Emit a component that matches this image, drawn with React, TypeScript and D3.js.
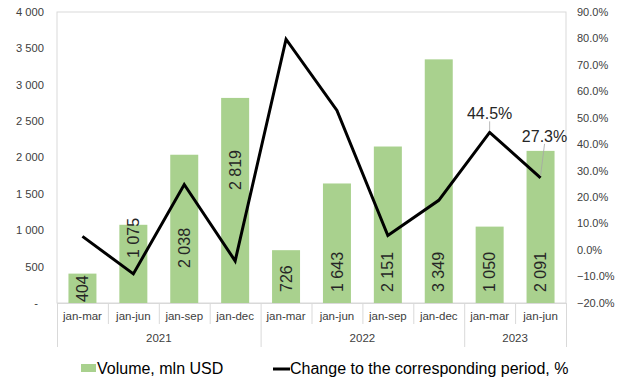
import React from 'react';
import * as d3 from 'd3';

const categories = ['jan-mar', 'jan-jun', 'jan-sep', 'jan-dec', 'jan-mar', 'jan-jun', 'jan-sep', 'jan-dec', 'jan-mar', 'jan-jun'];
const yearLabels = ['2021', '2022', '2023'];
const yearSpans = [4, 4, 2];
const volume = [404, 1075, 2038, 2819, 726, 1643, 2151, 3349, 1050, 2091];
const change = [5.2, -9.0, 24.8, -4.1, 79.7, 52.8, 5.5, 18.8, 44.5, 27.3];
// where each rotated value label starts, in mln USD
const labelAnchor = [14, 619, 481, 1553, 151, 151, 151, 151, 151, 151];
const leftTicks = [0, 500, 1000, 1500, 2000, 2500, 3000, 3500, 4000];
const rightTicks = [-20, -10, 0, 10, 20, 30, 40, 50, 60, 70, 80, 90];
const annotated = [8, 9];

const W = 622, H = 380;
const L = 57, R = 566, T = 12, B = 303;
const FONT = '"Liberation Sans", Arial, sans-serif';
const GREEN = '#a9d18e';
const GRID = '#d9d9d9';

const loc = d3.formatLocale({ decimal: '.', thousands: '\u2009', grouping: [3], currency: ['', ''] });
const fmtNum = (v: number) => loc.format(',d')(v).replace('\u2009', ' ');

export default function App() {
  const x = d3.scaleBand<number>().domain(categories.map((_, i) => i)).range([L, R]).paddingInner(0.45).paddingOuter(0.225);
  const xb = d3.scaleBand<number>().domain(categories.map((_, i) => i)).range([L, R]);
  const yL = d3.scaleLinear().domain([0, 4000]).range([B, T]);
  const yR = d3.scaleLinear().domain([-20, 90]).range([B, T]);
  const cx = (i: number) => (xb(i) as number) + xb.bandwidth() / 2;
  const line = d3.line<number>().x((_, i) => cx(i)).y((d) => yR(d));

  const yearBounds: number[] = [0];
  yearSpans.forEach((s) => yearBounds.push(yearBounds[yearBounds.length - 1] + s));
  const edge = (k: number) => (k >= categories.length ? R : (xb(k) as number));

  const annOffsets: Record<number, [number, number]> = { 8: [0, -18], 9: [4, -41] };

  return (
    <svg width={W} height={H} style={{ position: 'absolute', left: 0, top: 0, fontFamily: FONT }}>
      <rect x={0} y={0} width={W} height={H} fill="#fff" />
      {/* plot border */}
      <rect x={L} y={T} width={R - L} height={B - T} fill="none" stroke={GRID} strokeWidth={1} />

      {/* bars */}
      {volume.map((v, i) => (
        <rect key={'b' + i} x={x(i)} y={yL(v)} width={x.bandwidth()} height={B - yL(v)} fill={GREEN} />
      ))}

      {/* category separators */}
      {d3.range(categories.length + 1).map((k) => {
        const isYear = yearBounds.includes(k);
        return (
          <line key={'s' + k} x1={edge(k) + 0.5} x2={edge(k) + 0.5} y1={B} y2={isYear ? 347 : 324} stroke={GRID} strokeWidth={1} />
        );
      })}
      <line x1={L} x2={R} y1={B + 0.5} y2={B + 0.5} stroke={GRID} strokeWidth={1} />

      {/* category labels */}
      {categories.map((c, i) => (
        <text key={'c' + i} x={cx(i)} y={320} textAnchor="middle" fontSize={11.5} fill="#404040">{c}</text>
      ))}
      {yearLabels.map((y, j) => (
        <text key={'y' + j} x={(edge(yearBounds[j]) + edge(yearBounds[j + 1])) / 2} y={342} textAnchor="middle" fontSize={11.5} fill="#404040">{y}</text>
      ))}

      {/* left axis */}
      {leftTicks.map((t) => (
        <text key={'l' + t} x={t === 0 ? 38 : 44} y={yL(t)} dy="0.35em" textAnchor="end" fontSize={11.2} fill="#404040">
          {t === 0 ? '-' : fmtNum(t)}
        </text>
      ))}
      {/* right axis */}
      {rightTicks.map((t) => (
        <text key={'r' + t} x={577} y={yR(t)} dy="0.35em" textAnchor="start" fontSize={11} fill="#404040">
          {d3.format('.1f')(t) + '%'}
        </text>
      ))}

      {/* bar value labels */}
      {volume.map((v, i) => (
        <text
          key={'v' + i}
          transform={`translate(${cx(i)},${yL(labelAnchor[i])}) rotate(-90)`}
          dy="0.35em"
          textAnchor="start"
          fontSize={16}
          fill="#262626"
        >
          {fmtNum(v)}
        </text>
      ))}

      {/* line */}
      <path d={line(change) || ''} fill="none" stroke="#000" strokeWidth={3} strokeLinejoin="miter" />

      {/* annotations */}
      {annotated.map((i) => {
        const [dx, dy] = annOffsets[i];
        const px = cx(i), py = yR(change[i]);
        return (
          <g key={'a' + i}>
            <line x1={px} y1={py - 2} x2={px + dx} y2={py + dy + 7} stroke="#a6a6a6" strokeWidth={0.8} />
            <text x={px + dx} y={py + dy + 5} textAnchor="middle" fontSize={16} fill="#262626">
              {d3.format('.1f')(change[i]) + '%'}
            </text>
          </g>
        );
      })}

      {/* legend */}
      <rect x={81} y={364} width={15} height={8} fill={GREEN} />
      <text x={97} y={374} fontSize={16} fill="#000">Volume, mln USD</text>
      <line x1={273} x2={290} y1={369} y2={369} stroke="#000" strokeWidth={3} />
      <text x={290} y={374} fontSize={16} fill="#000">Change to the corresponding period, %</text>
    </svg>
  );
}
